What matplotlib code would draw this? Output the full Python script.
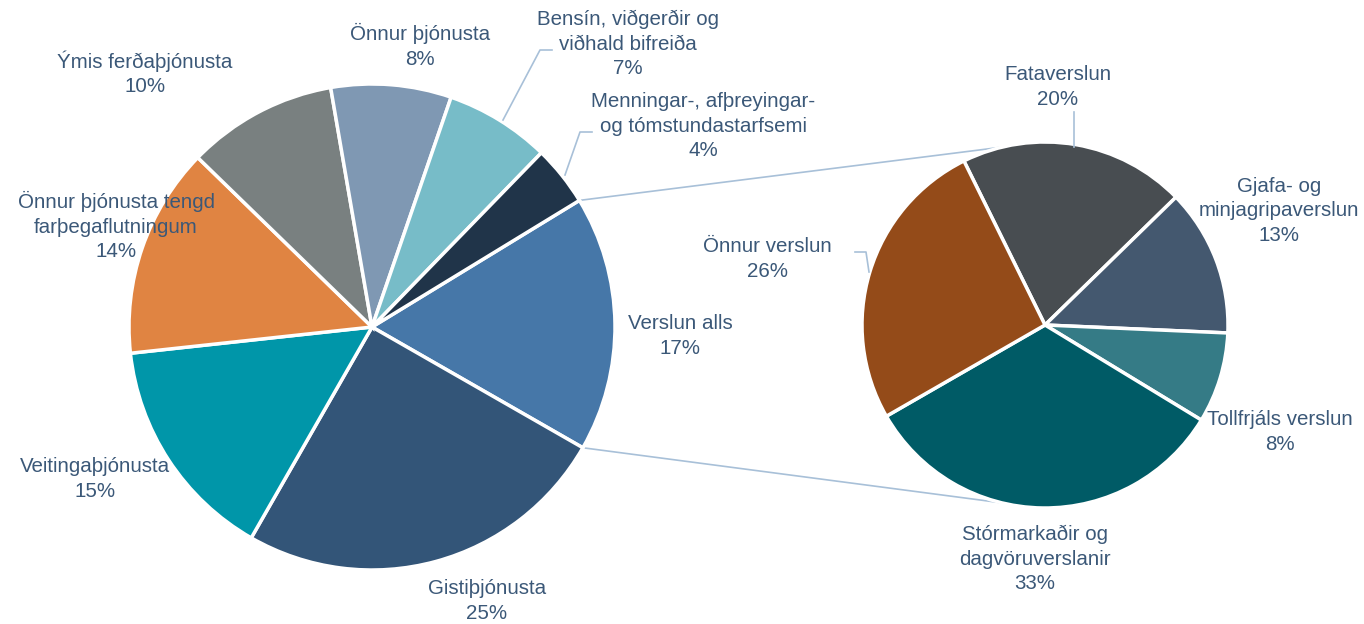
import matplotlib.pyplot as plt
import numpy as np

# main pie: turnover share by sector (%)
main_labels = ['Verslun alls', 'Gistiþjónusta', 'Veitingaþjónusta',
               'Önnur þjónusta tengd\nfarþegaflutningum', 'Ýmis ferðaþjónusta',
               'Önnur þjónusta', 'Bensín, viðgerðir og\nviðhald bifreiða',
               'Menningar-, afþreyingar-\nog tómstundastarfsemi']
main_values = [17, 25, 15, 14, 10, 8, 7, 4]
main_colors = ['#4677a8', '#335578', '#0096a9', '#e08442', '#798080',
               '#7f98b3', '#77bcc8', '#203449']

# secondary pie: breakdown of Verslun alls (%)
sub_labels = ['Fataverslun', 'Gjafa- og\nminjagripaverslun', 'Tollfrjáls verslun',
              'Stórmarkaðir og\ndagvöruverslanir', 'Önnur verslun']
sub_values = [20, 13, 8, 33, 26]
sub_colors = ['#484d51', '#44586f', '#357b86', '#005b66', '#944b19']

W, H = 1364, 624
TEXT = '#3b5878'
LINE = '#a8c0d8'


def px(x, y):
    # pixel coords (origin top-left) -> data coords
    return x, H - y


fig = plt.figure(figsize=(13.64, 6.24), dpi=100)
ax = fig.add_axes([0, 0, 1, 1])

c1, r1 = px(372, 327), 243
c2, r2 = px(1045, 325), 183
start1 = 360 * main_values[0] / 100 / 2 + 0.8   # first wedge roughly centred on 0 deg
start2 = 116.3

wp = dict(edgecolor='white', linewidth=2.5)
ax.pie(main_values, colors=main_colors, center=c1, radius=r1,
       startangle=start1, counterclock=False, wedgeprops=wp)
ax.pie(sub_values, colors=sub_colors, center=c2, radius=r2,
       startangle=start2, counterclock=False, wedgeprops=wp)

# connector lines between the pies
a_top = np.radians(start1)
a_bot = np.radians(start1 - 360 * main_values[0] / 100)
a2 = np.radians(103.6)
ax.plot([c1[0] + r1 * np.cos(a_top), c2[0] + r2 * np.cos(a2)],
        [c1[1] + r1 * np.sin(a_top), c2[1] + r2 * np.sin(a2)],
        color=LINE, lw=1.2, zorder=0)
ax.plot([c1[0] + r1 * np.cos(a_bot), c2[0] + r2 * np.cos(-a2)],
        [c1[1] + r1 * np.sin(a_bot), c2[1] + r2 * np.sin(-a2)],
        color=LINE, lw=1.2, zorder=0)

# label positions (pixel centers)
main_pos = [(680, 336), (487, 601), (95, 479), (116, 226), (145, 73),
            (420, 46), (628, 44), (703, 126)]
sub_pos = [(1058, 87), (1279, 211), (1280, 432), (1035, 559), (767, 259)]

fs = 14.8
for lab, v, p in zip(main_labels + sub_labels, main_values + sub_values,
                     main_pos + sub_pos):
    ax.text(*px(*p), f'{lab}\n{v}%', ha='center', va='center',
            multialignment='center', fontsize=fs, color=TEXT,
            linespacing=1.36, family=['Liberation Sans', 'DejaVu Sans'])

# leader lines
leaders = [
    [(552, 50), (540, 50), (503, 120)],
    [(592, 132), (580, 132), (565, 175)],
    [(855, 252), (866, 252), (869, 272)],
    [(1074, 112), (1074, 147)],
]
for seg in leaders:
    xs, ys = zip(*[px(*q) for q in seg])
    ax.plot(xs, ys, color=LINE, lw=1.2)

ax.set_xlim(0, W)
ax.set_ylim(0, H)
ax.set_aspect('equal')
ax.axis('off')

plt.savefig('out.png', dpi=100)
